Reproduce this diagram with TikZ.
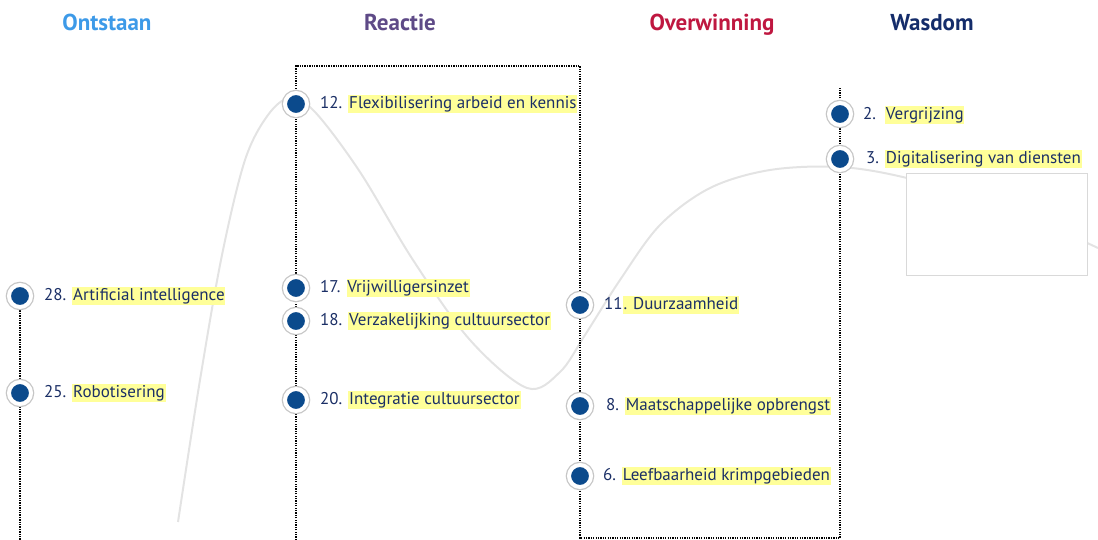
\documentclass[tikz,border=0pt]{standalone}
\usepackage{fontspec}
\setmainfont{PT Sans}
\usepackage{xcolor}
\usetikzlibrary{positioning,backgrounds}
\definecolor{dotblue}{HTML}{0B4A8C}
\definecolor{txtblue}{HTML}{1B2F66}
\definecolor{hlyellow}{HTML}{FFFF99}
\definecolor{cOnt}{HTML}{3D9AE8}
\definecolor{cRea}{HTML}{5E4A87}
\definecolor{cOve}{HTML}{BF1740}
\definecolor{cWas}{HTML}{142C6A}
\newcommand{\hlt}[1]{{\setlength{\fboxsep}{0.8pt}\colorbox{hlyellow}{\vphantom{Ag}#1}}}

\begin{document}
\begin{tikzpicture}[x=1pt,y=-1pt,
  dot/.style={circle,fill=dotblue,draw=white,line width=4pt,minimum size=22pt,inner sep=0pt,
    preaction={draw=gray!45,line width=6.5pt}},
  lbl/.style={inner sep=0pt,text=txtblue,font=\fontsize{17}{20}\selectfont},
  ttl/.style={anchor=base,font=\fontsize{23}{27}\selectfont\bfseries},
  frame/.style={line width=2.2pt,dash pattern=on 1.3pt off 1.1pt},
  curve/.style={draw=gray!22,line width=2pt}]
 \useasboundingbox (0,0) rectangle (1098,540);
 % phase titles
 \node[ttl,text=cOnt] (t1) at (107,31) {Ontstaan};
 \node[ttl,text=cRea] (t2) at (400,31) {Reactie};
 \node[ttl,text=cOve] (t3) at (712,31) {Overwinning};
 \node[ttl,text=cWas] (t4) at (932,31) {Wasdom};
 % dots
 \foreach \n/\x/\y in {28/20/296,25/20/393,12/296/104,17/296/288,18/296/321,20/296/400,
   11/580/305,8/580/406,6/580/476,2/840/114,3/840/159}
   \node[dot] (d\n) at (\x,\y) {};
 % labels
 \node[lbl,right=11pt of d28] (l28) {28. \hlt{Artificial intelligence}};
 \node[lbl,right=11pt of d25] (l25) {25. \hlt{Robotisering}};
 \node[lbl,right=11pt of d12] (l12) {12. \hlt{Flexibilisering arbeid en kennis}};
 \node[lbl,right=11pt of d17] (l17) {17. \hlt{Vrijwilligersinzet}};
 \node[lbl,right=11pt of d18] (l18) {18. \hlt{Verzakelijking cultuursector}};
 \node[lbl,right=11pt of d20] (l20) {20. \hlt{Integratie cultuursector}};
 \node[lbl,right=11pt of d11] (l11) {11\hlt{. Duurzaamheid}};
 \node[lbl,right=13pt of d8] (l8) {8. \hlt{Maatschappelijke opbrengst}};
 \node[lbl,right=10pt of d6] (l6) {6. \hlt{Leefbaarheid krimpgebieden}};
 \node[lbl,right=10pt of d2,yshift=-1pt] (l2) {2.\ \ \hlt{Vergrijzing}};
 \node[lbl,right=13pt of d3] (l3) {3. \hlt{Digitalisering van diensten}};
 % frame corners
 \coordinate (lb) at (20,540);
 \coordinate (rb) at (296,540);
 \coordinate (rt) at (296,66);
 \coordinate (ot) at (580,66);
 \coordinate (ob) at (580,538);
 \coordinate (wb) at (840,538);
 \coordinate (wt) at (840,88);
 \begin{scope}[on background layer]
  \draw[curve] plot[smooth,tension=0.55] coordinates {(178,522) (200,380) (222,255) (245,160)
    (268,115) (290,98) (315,112) (360,172) (413,260) (470,340) (527,388) (560,372) (585,335)
    (620,280) (660,225) (710,188) (770,170) (840,167) (907,178) (1000,205) (1098,248)};
  \node[draw=gray!30,fill=white,anchor=north west,inner sep=0pt,minimum width=181pt,
    minimum height=102pt] (blank) at (906,173) {};
  \draw[frame] (d28.center) -- (d25.center) -- (lb);
  \draw[frame] (rb) -- (d20.center) -- (d12.center) -- (rt) -- (ot) -- (d11.center)
    -- (ob) -- (wb) -- (d3.center) -- (wt);
 \end{scope}
\end{tikzpicture}
\end{document}
